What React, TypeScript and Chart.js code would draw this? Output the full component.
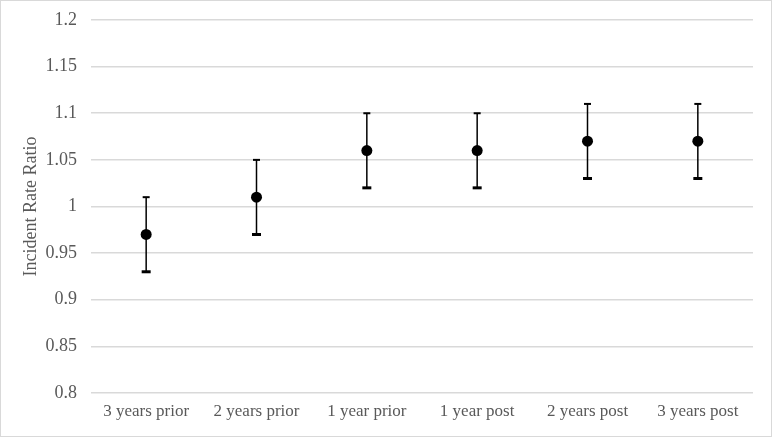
import React, { useEffect, useRef } from "react";
import { Chart, registerables } from "chart.js";

Chart.register(...registerables);

const categories = ["3 years prior", "2 years prior", "1 year prior", "1 year post", "2 years post", "3 years post"];
const irr = [0.97, 1.01, 1.06, 1.06, 1.07, 1.07];
const lowerCI = [0.93, 0.97, 1.02, 1.02, 1.03, 1.03];
const upperCI = [1.01, 1.05, 1.1, 1.1, 1.11, 1.11];
const yTicks = [0.8, 0.85, 0.9, 0.95, 1, 1.05, 1.1, 1.15, 1.2];

const FONT = "'Liberation Serif', 'Times New Roman', serif";
Chart.defaults.font.family = FONT;

const errorBarPlugin = {
  id: "errorBars",
  beforeDatasetsDraw(chart: any) {
    const { ctx, scales } = chart;
    const x = scales.x;
    const y = scales.y;
    ctx.save();
    ctx.strokeStyle = "#000000";
    categories.forEach((_, i) => {
      const px = x.getPixelForValue(i);
      const yTop = y.getPixelForValue(upperCI[i]);
      const yBot = y.getPixelForValue(lowerCI[i]);
      ctx.lineWidth = 1.5;
      ctx.beginPath();
      ctx.moveTo(px, yTop);
      ctx.lineTo(px, yBot);
      ctx.stroke();
      ctx.lineWidth = 2;
      ctx.beginPath();
      ctx.moveTo(px - 3.5, yTop);
      ctx.lineTo(px + 3.5, yTop);
      ctx.stroke();
      ctx.lineWidth = 3;
      ctx.beginPath();
      ctx.moveTo(px - 4.5, yBot);
      ctx.lineTo(px + 4.5, yBot);
      ctx.stroke();
    });
    ctx.restore();
  },
};

export default function App() {
  const ref = useRef<HTMLCanvasElement>(null);
  useEffect(() => {
    if (!ref.current) return;
    const chart = new Chart(ref.current, {
      type: "line",
      data: {
        labels: categories,
        datasets: [
          {
            data: irr,
            showLine: false,
            pointRadius: 5.5,
            pointHoverRadius: 5.5,
            pointBackgroundColor: "#000000",
            pointBorderColor: "#000000",
            pointBorderWidth: 0,
          },
        ],
      },
      options: {
        animation: false,
        responsive: false,
        maintainAspectRatio: false,
        layout: { padding: { left: 0, right: 18, top: 19, bottom: 0 } },
        plugins: { legend: { display: false }, tooltip: { enabled: false } },
        scales: {
          x: {
            offset: true,
            grid: { display: false, drawTicks: false },
            border: { display: false },
            ticks: { color: "#595959", font: { family: FONT, size: 17 }, padding: 8, maxRotation: 0, autoSkip: false },
            afterFit: (s: any) => { s.height = 43; s.paddingLeft = 0; s.paddingRight = 0; },
          },
          y: {
            min: 0.8,
            max: 1.2,
            afterBuildTicks: (s: any) => { s.ticks = yTicks.map((v) => ({ value: v })); },
            grid: { color: "#d9d9d9", lineWidth: 1.5, drawTicks: false },
            border: { display: false },
            ticks: {
              color: "#595959",
              font: { family: FONT, size: 18 },
              padding: 14,
              callback: (v: any) => String(Math.round(Number(v) * 100) / 100),
            },
            title: {
              display: true,
              text: "Incident Rate Ratio",
              color: "#595959",
              font: { family: FONT, size: 18 },
              padding: { top: 19, bottom: 0 },
            },
            afterFit: (s: any) => { s.width = 90; s.paddingTop = 0; s.paddingBottom = 0; },
          },
        },
      },
      plugins: [errorBarPlugin],
    });
    return () => chart.destroy();
  }, []);
  return (
    <div
      style={{
        position: "absolute",
        left: 0,
        top: 0,
        width: 772,
        height: 437,
        boxSizing: "border-box",
        border: "1px solid #d9d9d9",
        background: "#ffffff",
      }}
    >
      <canvas ref={ref} width={770} height={435} style={{ display: "block" }} />
    </div>
  );
}
